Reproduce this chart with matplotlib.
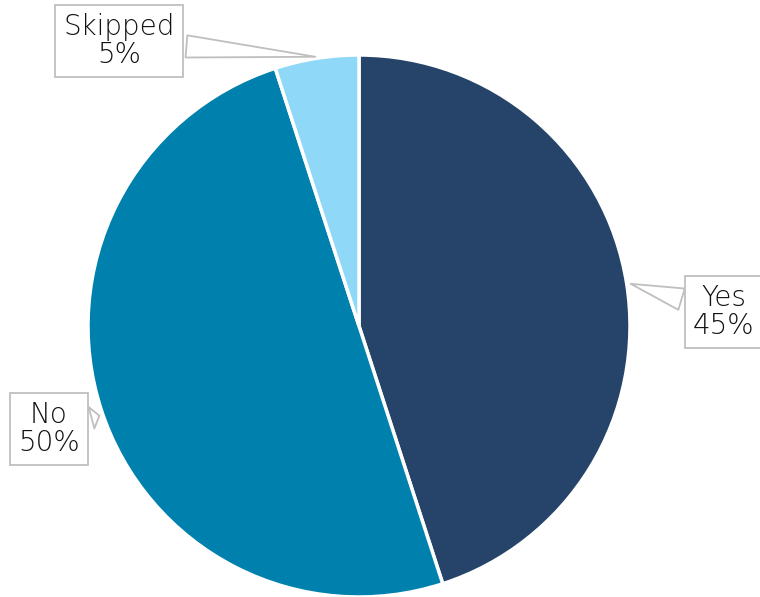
import matplotlib.pyplot as plt

# Survey answers
labels = ['Yes', 'No', 'Skipped']
values = [45, 50, 5]
colors = ['#264469', '#0081AD', '#8FD8F8']

# label box positions (pixel coords, y from top) and where the callout points
text_pos = [(724, 312), (49, 429), (119, 41)]
tip_pos = [(628, 283), (102, 415), (318, 57)]

W, H = 760, 597
fig = plt.figure(figsize=(W / 100, H / 100), dpi=100)
ax = fig.add_axes([0, 0, 1, 1])

cx, cy, r = 359, H - 326, 271
ax.pie(values, colors=colors, startangle=90, counterclock=False,
       center=(cx, cy), radius=r, frame=True,
       wedgeprops=dict(edgecolor='white', linewidth=2.5))
ax.set_xlim(0, W)
ax.set_ylim(0, H)
ax.set_aspect('equal')
ax.axis('off')

for lab, v, (tx, ty), (px, py) in zip(labels, values, text_pos, tip_pos):
    ax.annotate(f'{lab}\n{v}%', xy=(px, H - py), xytext=(tx, H - ty),
                ha='center', va='center', fontsize=20, family='DejaVu Sans',
                fontweight='light', color='#111111', linespacing=1.0,
                bbox=dict(boxstyle='square,pad=0.3', fc='white',
                          ec='#bfbfbf', lw=1.3),
                arrowprops=dict(arrowstyle='wedge,tail_width=0.8,shrink_factor=0.5',
                                fc='white', ec='#bfbfbf', lw=1.3),
                zorder=5)

fig.savefig('out.png', dpi=100)
